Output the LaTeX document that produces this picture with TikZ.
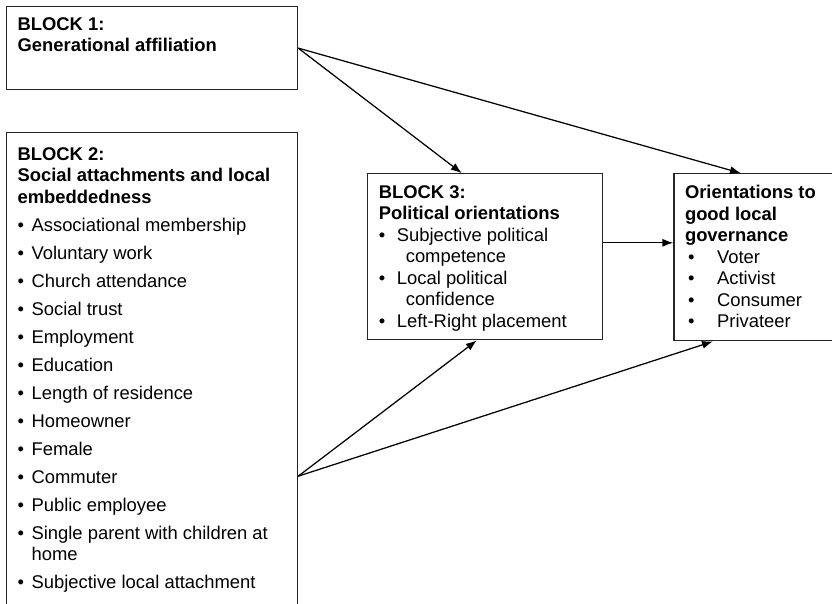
\documentclass[tikz,border=0pt]{standalone}
\usepackage{fontspec}
\setmainfont{Liberation Sans}
\usetikzlibrary{arrows.meta, positioning}

\newcommand{\blt}[1][14pt]{\makebox[#1][l]{\textbullet}}

\begin{document}
\begin{tikzpicture}[
    x=1pt, y=1pt,
    font=\fontsize{18.4pt}{21.5pt}\selectfont,
    block/.style={draw=black!85, line width=1.2pt, anchor=north west, align=left, inner xsep=11pt, inner ysep=11.5pt},
    arrow/.style={-{Latex[length=11pt, width=8pt]}, line width=1.25pt}
]
\useasboundingbox (0,0) rectangle (832,-603);
\clip (0,0) rectangle (832,-603);
\node[block, inner ysep=11pt] (block1) at (6,-6) {\parbox[c][61pt][t]{269pt}{%
    \textbf{BLOCK 1:}\\
    \textbf{Generational affiliation}}};
\node[block, inner ysep=14.5pt, below right=42pt and 0pt of block1.south west] (block2) {\parbox[c][480pt][t]{269pt}{%
    \textbf{BLOCK 2:}\\
    \textbf{Social attachments and local}\\
    \textbf{embeddedness}\\[6.5pt]
    \blt Associational membership\\[6.5pt]
    \blt Voluntary work\\[6.5pt]
    \blt Church attendance\\[6.5pt]
    \blt Social trust\\[6.5pt]
    \blt Employment\\[6.5pt]
    \blt Education\\[6.5pt]
    \blt Length of residence\\[6.5pt]
    \blt Homeowner\\[6.5pt]
    \blt Female\\[6.5pt]
    \blt Commuter\\[6.5pt]
    \blt Public employee\\[6.5pt]
    \blt Single parent with children at\\
    \hspace*{14pt}home\\[6.5pt]
    \blt Subjective local attachment}};
\node[block, below right=83pt and 69pt of block1.south east] (block3) {\parbox[c][143pt][t]{213pt}{%
    \textbf{BLOCK 3:}\\
    \textbf{Political orientations}\\
    \blt[13pt] Subjective political\\
    \hspace*{27pt}competence\\
    \blt[13pt] Local political\\
    \hspace*{27pt}confidence\\
    \blt[13pt] Left-Right placement}};
\node[block, below right=0pt and 70pt of block3.north east] (orient) {\parbox[c][144pt][t]{137pt}{%
    \textbf{Orientations to}\\
    \textbf{good local}\\
    \textbf{governance}\\
    \hspace*{3pt}\blt[24pt] Voter\\
    \hspace*{3pt}\blt[24pt] Activist\\
    \hspace*{3pt}\blt[24pt] Consumer\\
    \hspace*{3pt}\blt[24pt] Privateer}};
\coordinate (b2out) at ([yshift=-344pt]block2.north east);
\draw[arrow] (block1.east) -- ([xshift=-23.5pt]block3.north);
\draw[arrow] (block1.east) -- ([xshift=-12.5pt]orient.north);
\draw[arrow] ([yshift=14pt]block3.east) -- ([yshift=14pt]block3.east -| orient.west);
\draw[arrow] (b2out) -- ([xshift=-8.5pt]block3.south);
\draw[arrow] (b2out) -- ([xshift=-40.5pt]orient.south);
\end{tikzpicture}
\end{document}
